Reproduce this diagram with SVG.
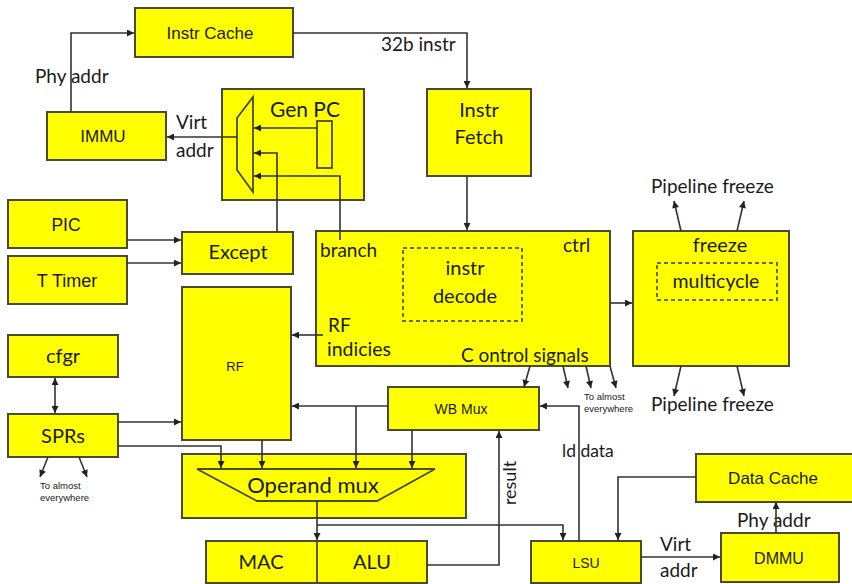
<svg xmlns="http://www.w3.org/2000/svg" width="852" height="584" viewBox="0 0 852 584">
<defs>
<marker id="ah" viewBox="0 0 10 10" refX="10" refY="5" markerWidth="8" markerHeight="7" markerUnits="userSpaceOnUse" orient="auto">
<path d="M0,0 L10,5 L0,10 z" fill="#222"/>
</marker>
<marker id="ahs" viewBox="0 0 10 10" refX="0" refY="5" markerWidth="8" markerHeight="7" markerUnits="userSpaceOnUse" orient="auto">
<path d="M10,0 L0,5 L10,10 z" fill="#222"/>
</marker>
<style>
.box{fill:#ffff00;stroke:#4a4a30;stroke-width:2}
.inner{fill:none;stroke:#4a4a30;stroke-width:1.8}
.dash{fill:none;stroke:#6a6a30;stroke-width:2;stroke-dasharray:4,3}
.ln{fill:none;stroke:#333;stroke-width:1.6}
.arr{fill:none;stroke:#333;stroke-width:1.6;marker-end:url(#ah)}
.c{font-family:Lato,"Liberation Sans",sans-serif;fill:#1a1a1a}
.a{font-family:"Liberation Sans",Arial,sans-serif;fill:#1a1a1a}
.m{text-anchor:middle}
</style>
</defs>
<rect width="852" height="584" fill="#ffffff"/>

<g id="instr-cache"><rect class="box" x="135" y="8" width="158" height="49"/><text class="a m" x="210" y="39" font-size="17">Instr Cache</text></g>
<g id="immu"><rect class="box" x="47" y="112" width="119" height="48"/><text class="a m" x="103" y="142" font-size="17">IMMU</text></g>
<g id="gen-pc"><rect class="box" x="222" y="89" width="142" height="111"/>
<text class="c m" x="305" y="117" font-size="21">Gen PC</text>
<rect class="inner" x="317" y="121" width="15" height="47"/>
<path class="inner" d="M237,118 L253,97 L253,192 L237,170 Z"/></g>
<g id="instr-fetch"><rect class="box" x="427" y="89" width="104" height="87"/><text class="c m" x="479" y="117" font-size="20">Instr</text><text class="c m" x="479" y="144" font-size="20">Fetch</text></g>
<g id="pic"><rect class="box" x="8" y="200" width="119" height="48"/><text class="a m" x="66" y="231" font-size="17.5">PIC</text></g>
<g id="t-timer"><rect class="box" x="8" y="256" width="119" height="48"/><text class="a m" x="67" y="287" font-size="18">T Timer</text></g>
<g id="except"><rect class="box" x="182" y="232" width="111" height="42"/><text class="c m" x="238" y="259" font-size="20">Except</text></g>
<g id="ctrl"><rect class="box" x="316" y="231" width="294" height="135"/>
<text class="c" x="320" y="257" font-size="19">branch</text>
<text class="c" x="563" y="252" font-size="19">ctrl</text>
<rect class="dash" x="403" y="248" width="119" height="73"/>
<text class="c m" x="465" y="275" font-size="20">instr</text>
<text class="c m" x="465" y="303" font-size="20">decode</text>
<text class="c" x="328" y="332" font-size="19">RF</text>
<text class="c" x="327" y="356" font-size="19.5">indicies</text>
<text class="c" x="461" y="362" font-size="19">C ontrol signals</text></g>
<g id="freeze"><rect class="box" x="633" y="231" width="156" height="135"/>
<text class="c m" x="720" y="252" font-size="20">freeze</text>
<rect class="dash" x="657" y="263" width="120" height="37"/>
<text class="c m" x="716" y="288" font-size="19.5">multicycle</text></g>
<text class="c" x="651" y="193" font-size="19">Pipeline freeze</text>
<text class="c" x="651" y="411" font-size="19">Pipeline freeze</text>
<text class="a" x="584" y="400" font-size="9.5">To almost</text>
<text class="a" x="584" y="412" font-size="9.5">everywhere</text>
<g id="rf"><rect class="box" x="182" y="287" width="109" height="153"/><text class="a m" x="235" y="371" font-size="13">RF</text></g>
<g id="cfgr"><rect class="box" x="8" y="335" width="110" height="42"/><text class="c m" x="63" y="363" font-size="20">cfgr</text></g>
<g id="sprs"><rect class="box" x="8" y="414" width="110" height="43"/><text class="c m" x="63" y="443" font-size="20">SPRs</text></g>
<text class="a" x="40" y="489" font-size="9.5">To almost</text>
<text class="a" x="40" y="501" font-size="9.5">everywhere</text>
<g id="wb-mux"><rect class="box" x="388" y="387" width="151" height="43"/><text class="a m" x="461" y="414" font-size="14">WB Mux</text></g>
<g id="operand-mux"><rect class="box" x="182" y="454" width="284" height="64"/>
<path class="inner" d="M197,469 L435,469 L377,501 L257,501 Z"/>
<text class="c m" x="313" y="493" font-size="22">Operand mux</text></g>
<text class="c m" transform="translate(516,483) rotate(-90)" font-size="18">result</text>
<text class="c" x="562" y="457" font-size="17.5">ld data</text>
<g id="mac-alu"><rect class="box" x="206" y="541" width="221" height="42"/>
<line class="inner" x1="317" y1="541" x2="317" y2="583"/>
<text class="c m" x="261" y="569" font-size="20">MAC</text>
<text class="c m" x="372" y="569" font-size="20">ALU</text></g>
<g id="lsu"><rect class="box" x="531" y="541" width="110" height="42"/><text class="a m" x="586" y="568" font-size="14">LSU</text></g>
<text class="c" x="660" y="551" font-size="19">Virt</text>
<text class="c" x="660" y="577" font-size="19">addr</text>
<g id="data-cache"><rect class="box" x="696" y="454" width="160" height="48"/><text class="a m" x="773" y="484" font-size="17">Data Cache</text></g>
<text class="c" x="737" y="527" font-size="19">Phy addr</text>
<g id="dmmu"><rect class="box" x="721" y="533" width="118" height="49"/><text class="a m" x="779" y="564" font-size="16">DMMU</text></g>
<text class="c" x="35" y="83" font-size="19">Phy addr</text>
<text class="c" x="381" y="51" font-size="19">32b instr</text>
<text class="c" x="176" y="129" font-size="19">Virt</text>
<text class="c" x="176" y="157" font-size="19">addr</text>

<g id="connectors">
<path class="arr" d="M71,112 V33 H134"/>
<path class="arr" d="M293,33 H467 V88"/>
<path class="arr" d="M237,137 H167"/>
<path class="arr" d="M317,128 H254"/>
<path class="arr" d="M277,232 V153 H254"/>
<path class="arr" d="M340,240 V176 H254"/>
<path class="arr" d="M127,240 H181"/>
<path class="arr" d="M127,263 H181"/>
<path class="arr" d="M467,176 V230"/>
<path class="arr" d="M610,303 H632"/>
<path class="arr" d="M681,231 L674,201"/>
<path class="arr" d="M737,231 L744,201"/>
<path class="arr" d="M681,366 L674,396"/>
<path class="arr" d="M737,366 L744,396"/>
<path class="arr" d="M530,366 L524,387"/>
<path class="arr" d="M563,366 L568,388"/>
<path class="arr" d="M586,366 L591,388"/>
<path class="arr" d="M610,366 L616,388"/>
<path class="arr" d="M323,335 H292"/>
<path class="arr" d="M388,406 H292"/>
<path class="arr" d="M356,406 V468"/>
<path class="arr" d="M412,430 V468"/>
<path class="arr" d="M262,440 V468"/>
<path class="arr" d="M118,422 H181"/>
<path class="arr" d="M118,446 H221 V468"/>
<path class="ln" d="M55,378 V413" marker-start="url(#ahs)" marker-end="url(#ah)"/>
<path class="arr" d="M48,457 L40,477"/>
<path class="arr" d="M79,457 L87,477"/>
<path class="arr" d="M317,501 V540"/>
<path class="arr" d="M317,525 H563 V540"/>
<path class="arr" d="M427,565 H499 V431"/>
<path class="arr" d="M579,541 V406 H540"/>
<path class="arr" d="M696,477 H618 V540"/>
<path class="arr" d="M641,557 H720"/>
<path class="arr" d="M776,533 V502"/>
</g>
</svg>
